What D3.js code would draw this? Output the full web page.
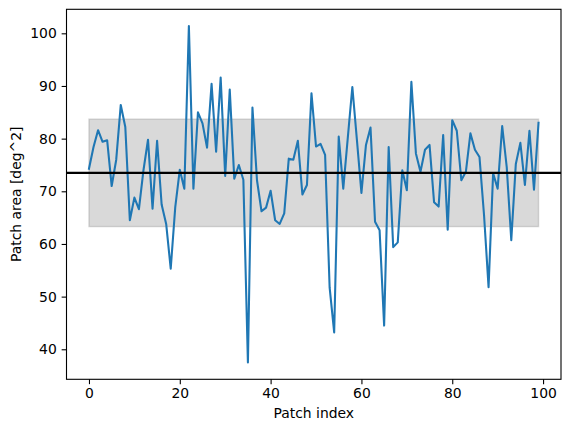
<!DOCTYPE html>
<html>
<head>
<meta charset="utf-8">
<script src="https://cdn.jsdelivr.net/npm/d3@7"></script>
<style>
  body { margin: 0; background: #fff; }
  svg text { font-family: "DejaVu Sans", sans-serif; fill: #000; }
</style>
</head>
<body>
<svg id="chart" width="571" height="432"></svg>
<script>
// patch areas, one per patch index 0..99
const patchArea = [
  74.3, 78.4, 81.6, 79.4, 79.7, 71.0, 76.0, 86.4, 82.2, 64.5,
  68.8, 66.6, 74.0, 79.8, 66.7, 79.6, 67.5, 63.8, 55.3, 67.0,
  74.1, 70.5, 101.4, 70.5, 85.0, 82.9, 78.3, 90.4, 77.5, 91.6,
  72.9, 89.3, 72.4, 75.0, 72.2, 37.5, 85.9, 72.1, 66.2, 66.9,
  70.1, 64.5, 63.8, 65.8, 76.2, 76.0, 79.6, 69.4, 71.2, 88.6,
  78.5, 79.0, 76.9, 51.7, 43.2, 80.4, 70.5, 80.2, 89.8, 79.8,
  69.7, 78.8, 82.1, 64.2, 62.6, 44.5, 78.4, 59.4, 60.3, 74.0,
  70.2, 90.8, 77.2, 73.7, 77.9, 78.8, 67.9, 67.1, 80.7, 62.7,
  83.5, 81.5, 72.1, 73.7, 81.0, 77.9, 76.5, 65.5, 51.8, 73.4,
  70.5, 82.4, 74.6, 60.7, 75.2, 79.2, 71.2, 81.5, 70.3, 83.0
];
const meanArea = 73.5;
const stdArea = 10.2;

const xTicks = [0, 20, 40, 60, 80, 100];
const yTicks = [40, 50, 60, 70, 80, 90, 100];

const plotLeft = 66.5, plotRight = 561, plotTop = 9.3, plotBottom = 379.3;
const tickLen = 4.86;

const svg = d3.select('svg#chart');

const x = d3.scaleLinear().domain([-4.95, 103.95]).range([plotLeft, plotRight]);
const y = d3.scaleLinear().domain([34.3, 104.56]).range([plotBottom, plotTop]);

// mean +/- std band
svg.append('rect')
  .attr('x', x(0))
  .attr('y', y(meanArea + stdArea))
  .attr('width', x(patchArea.length - 1) - x(0))
  .attr('height', y(meanArea - stdArea) - y(meanArea + stdArea))
  .attr('fill', 'gray')
  .attr('fill-opacity', 0.3)
  .attr('stroke', 'gray')
  .attr('stroke-opacity', 0.3)
  .attr('stroke-width', 1.4);

const line = d3.line()
  .x((d, i) => x(i))
  .y(d => y(d));

svg.append('path')
  .datum(patchArea)
  .attr('fill', 'none')
  .attr('stroke', '#1f77b4')
  .attr('stroke-width', 2.08)
  .attr('stroke-linejoin', 'round')
  .attr('stroke-linecap', 'square')
  .attr('d', line);

// mean line across the whole axes
svg.append('line')
  .attr('x1', plotLeft).attr('x2', plotRight)
  .attr('y1', y(meanArea)).attr('y2', y(meanArea))
  .attr('stroke', '#000')
  .attr('stroke-width', 2.08);

// axes
const xAxis = svg.append('g')
  .attr('transform', `translate(0,${plotBottom})`)
  .call(d3.axisBottom(x).tickValues(xTicks).tickSize(tickLen).tickPadding(4.2));
const yAxis = svg.append('g')
  .attr('transform', `translate(${plotLeft},0)`)
  .call(d3.axisLeft(y).tickValues(yTicks).tickSize(tickLen).tickPadding(4.86));

[xAxis, yAxis].forEach(g => {
  g.select('.domain').remove();
  g.selectAll('.tick line').attr('stroke', '#000').attr('stroke-width', 1.1);
  g.selectAll('.tick text').attr('font-size', '13.9px').attr('font-family', '"DejaVu Sans", sans-serif');
});

// frame
svg.append('rect')
  .attr('x', plotLeft).attr('y', plotTop)
  .attr('width', plotRight - plotLeft).attr('height', plotBottom - plotTop)
  .attr('fill', 'none')
  .attr('stroke', '#000')
  .attr('stroke-width', 1.1);

svg.append('text')
  .attr('x', (plotLeft + plotRight) / 2)
  .attr('y', 418)
  .attr('text-anchor', 'middle')
  .attr('font-size', '13.9px')
  .text('Patch index');

svg.append('text')
  .attr('transform', `translate(21,${(plotTop + plotBottom) / 2}) rotate(-90)`)
  .attr('text-anchor', 'middle')
  .attr('font-size', '13.9px')
  .text('Patch area [deg^2]');
</script>
</body>
</html>
